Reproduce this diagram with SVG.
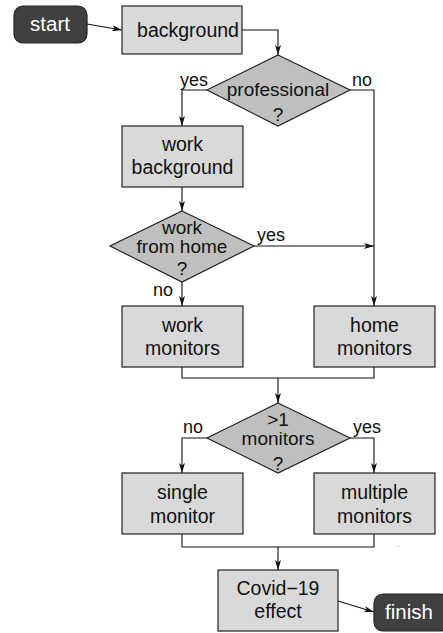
<svg xmlns="http://www.w3.org/2000/svg" width="443" height="633" viewBox="0 0 443 633">
<defs>
<marker id="arr" viewBox="0 0 10 6" refX="10" refY="3" markerWidth="10" markerHeight="6" markerUnits="userSpaceOnUse" orient="auto">
<path d="M0,0 L10,3 L0,6 L2.5,3 z" fill="#111"/>
</marker>
<style>
.box{fill:#d9d9d9;stroke:#222;stroke-width:1.2}
.dia{fill:#bfbfbf;stroke:#222;stroke-width:1.2}
.term{fill:#404040;stroke:#222;stroke-width:1.2}
.t{font-family:"Liberation Sans",Arial,sans-serif;font-size:19.5px;fill:#111;text-anchor:middle}
.td{font-family:"Liberation Sans",Arial,sans-serif;font-size:19px;fill:#111;text-anchor:middle}
.tw{font-family:"Liberation Sans",Arial,sans-serif;font-size:20.5px;fill:#fff;text-anchor:middle}
.lb{font-family:"Liberation Sans",Arial,sans-serif;font-size:18px;fill:#111}
.c{fill:none;stroke:#111;stroke-width:1.1}
</style>
</defs>
<rect width="443" height="633" fill="#fff"/>
<g id="connectors">
<path class="c" d="M87,24 L122,30" marker-end="url(#arr)"/>
<path class="c" d="M242,30 H278 V55" marker-end="url(#arr)"/>
<path class="c" d="M207,90 H182 V126" marker-end="url(#arr)"/>
<path class="c" d="M350,90 H374 V306" marker-end="url(#arr)"/>
<path class="c" d="M182,187 V211" marker-end="url(#arr)"/>
<path class="c" d="M254,246 H374" marker-end="url(#arr)"/>
<path class="c" d="M182,282 V306" marker-end="url(#arr)"/>
<path class="c" d="M182,367 V378 H374 V367"/>
<path class="c" d="M278,378 V403" marker-end="url(#arr)"/>
<path class="c" d="M207,438 H182 V473" marker-end="url(#arr)"/>
<path class="c" d="M350,438 H374 V473" marker-end="url(#arr)"/>
<path class="c" d="M182,534 V547 H374 V534"/>
<path class="c" d="M278,547 V570" marker-end="url(#arr)"/>
<path class="c" d="M338,601 L374,612" marker-end="url(#arr)"/>
<text class="lb" x="180" y="86">yes</text>
<text class="lb" x="352" y="86">no</text>
<text class="lb" x="257" y="241">yes</text>
<text class="lb" x="153" y="296">no</text>
<text class="lb" x="183" y="433">no</text>
<text class="lb" x="353" y="433">yes</text>
</g>
<g id="start">
<rect class="term" x="14" y="6" width="73" height="37" rx="9"/>
<text class="tw" x="50" y="31">start</text>
</g>
<g id="background">
<rect class="box" x="122" y="6" width="120" height="48"/>
<text class="t" x="188" y="37">background</text>
</g>
<g id="professional">
<polygon class="dia" points="278,55 350,90 278,126 207,90"/>
<text class="td" x="278" y="96">professional</text>
<text class="td" x="278" y="121">?</text>
</g>
<g id="work_background">
<rect class="box" x="122" y="126" width="121" height="61"/>
<text class="t" x="182.5" y="151">work</text>
<text class="t" x="182.5" y="174">background</text>
</g>
<g id="work_from_home">
<polygon class="dia" points="182,211 254,246 182,282 110,246"/>
<text class="td" x="182" y="234">work</text>
<text class="td" x="182" y="253">from home</text>
<text class="td" x="182" y="275">?</text>
</g>
<g id="work_monitors">
<rect class="box" x="122" y="306" width="121" height="61"/>
<text class="t" x="182.5" y="332">work</text>
<text class="t" x="182.5" y="355">monitors</text>
</g>
<g id="home_monitors">
<rect class="box" x="314" y="306" width="121" height="61"/>
<text class="t" x="374.5" y="332">home</text>
<text class="t" x="374.5" y="355">monitors</text>
</g>
<g id="more_monitors">
<polygon class="dia" points="278,403 350,438 278,473 207,438"/>
<text class="td" x="278" y="426">&gt;1</text>
<text class="td" x="278" y="445">monitors</text>
<text class="td" x="278" y="470">?</text>
</g>
<g id="single_monitor">
<rect class="box" x="122" y="473" width="121" height="61"/>
<text class="t" x="182.5" y="499">single</text>
<text class="t" x="182.5" y="523">monitor</text>
</g>
<g id="multiple_monitors">
<rect class="box" x="314" y="473" width="121" height="61"/>
<text class="t" x="374.5" y="499">multiple</text>
<text class="t" x="374.5" y="523">monitors</text>
</g>
<g id="covid">
<rect class="box" x="218" y="570" width="120" height="61"/>
<text class="t" x="278" y="595">Covid−19</text>
<text class="t" x="278" y="618">effect</text>
</g>
<g id="finish">
<rect class="term" x="374" y="594" width="75" height="37" rx="9"/>
<text class="tw" x="409" y="619">finish</text>
</g>
<circle cx="398" cy="546" r="0.6" fill="#999"/>
</svg>
